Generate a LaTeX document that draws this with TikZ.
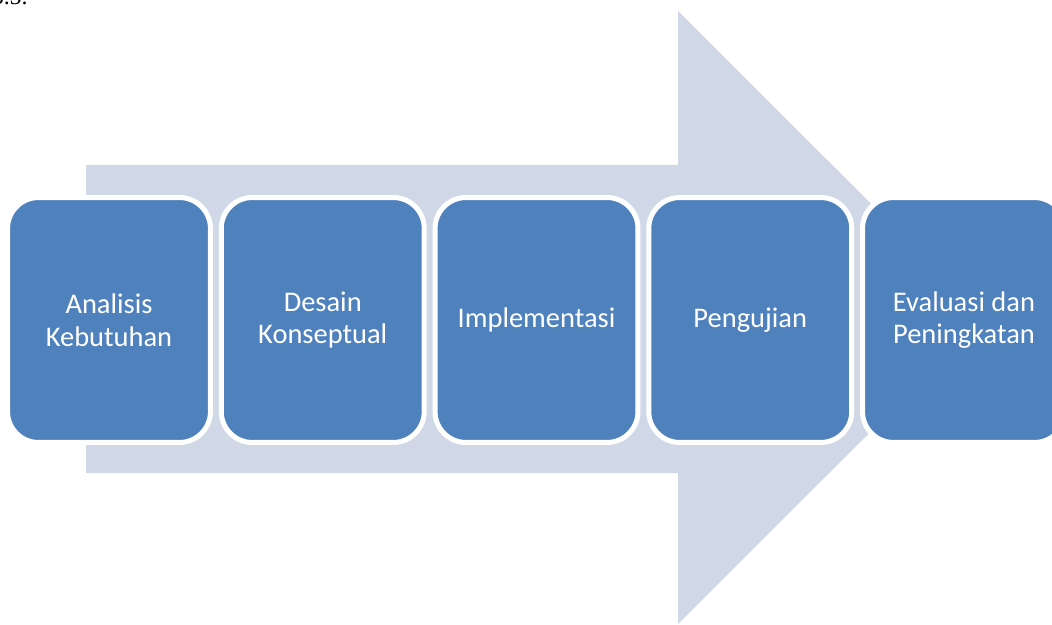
\documentclass[tikz,border=0pt]{standalone}
\usepackage{fontspec}
\setmainfont{Carlito}
\newfontfamily\pageserif{Liberation Serif}
\definecolor{stagefill}{HTML}{4F81BD}
\definecolor{arrowfill}{HTML}{D0D8E8}
\begin{document}
\begin{tikzpicture}[x=0.02cm,y=-0.02cm,
  stagebox/.style={rectangle,rounded corners=0.62cm,fill=stagefill,draw=white,
    line width=0.1cm,minimum width=4.06cm,minimum height=4.9cm,inner sep=0pt,
    text=white,align=center,font=\fontsize{16.2}{18.7}\selectfont}]
\useasboundingbox (0,0) rectangle (1052,625);
%\draw (0,0) rectangle (1052,625);

% page text cut off above the figure
\node[anchor=base east,inner sep=0pt,font=\pageserif\fontsize{13.6}{16}\selectfont] (cut) at (28,5) {3.5.};

% big background arrow
\fill[arrowfill] (86,165) -- (678,165) -- (678,11) -- (985,317.5)
  -- (678,624) -- (678,473) -- (86,473) -- cycle;

\node[stagebox] (s1) at (109,320) {Analisis\\Kebutuhan};
\node[stagebox] (s2) at (322.75,320) {Desain\\Konseptual};
\node[stagebox] (s3) at (536.5,320) {Implementasi};
\node[stagebox] (s4) at (750.25,320) {Pengujian};
\node[stagebox] (s5) at (964,320) {Evaluasi dan\\Peningkatan};
\end{tikzpicture}
\end{document}
